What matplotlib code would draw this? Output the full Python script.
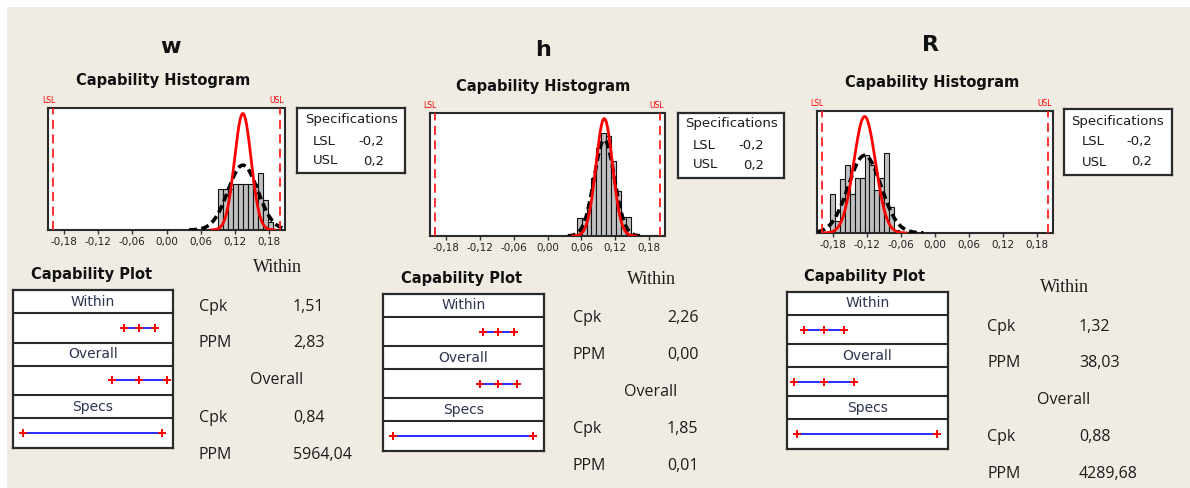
import numpy as np
import matplotlib
matplotlib.use("Agg")
import matplotlib.pyplot as plt
import matplotlib.transforms as mtransforms
from matplotlib.patches import Rectangle

# ---- data ----
names = ["w", "h", "R"]
lsl, usl = -0.2, 0.2
means = [0.134, 0.1005, -0.124]
cpk_within = [1.51, 2.26, 1.32]
ppm_within = [2.83, 0.00, 38.03]
cpk_overall = [0.84, 1.85, 0.88]
ppm_overall = [5964.04, 0.01, 4289.68]

# histogram bars (density), first bin edge and bin width
bin_start = [0.0905, 0.0516, -0.1853]
bin_width = [0.0087, 0.00874, 0.00873]
w_heights = [9.6, 9.6, 9.6, 10.8, 10.8, 10.8, 10.8, 10.8, 13.3, 7.0, 1.9]
h_heights = [4.2, 4.2, 7.4, 13.4, 20.4, 23.8, 23.1, 17.4, 10.4, 4.4, 4.4]
r_heights = [7.0, 2.1, 9.6, 12.1, 7.0, 9.8, 9.8, 13.9, 12.1, 7.7, 9.8, 14.3, 4.6, 0.5]
heights = [w_heights, h_heights, r_heights]

tick_values = [-0.18, -0.12, -0.06, 0.00, 0.06, 0.12, 0.18]

# ---- layout in pixels ----
W, H = 1190, 488
BG = "#F0ECE3"
layout = [
    dict(title=(170, 47), htitle=(163, 80), hist=(48, 108, 285, 230),
         spec=(297, 108, 405, 173), spec_y=(120, 142, 161), spec_lx=313, spec_rx=384,
         ctitle=(92, 274), cap=(13, 290, 173, 448),
         tc=277, tl=199, tv=293, ty=(268, 307, 343, 380, 418, 455)),
    dict(title=(543, 50), htitle=(543, 86), hist=(430, 113, 665, 236),
         spec=(678, 113, 784, 178), spec_y=(123, 145, 165), spec_lx=693, spec_rx=764,
         ctitle=(462, 278), cap=(383, 294, 544, 451),
         tc=651, tl=573, tv=667, ty=(280, 318, 355, 392, 429, 466)),
    dict(title=(930, 45), htitle=(932, 82), hist=(817, 111, 1053, 233),
         spec=(1064, 109, 1172, 175), spec_y=(122, 142, 162), spec_lx=1082, spec_rx=1152,
         ctitle=(865, 276), cap=(787, 292, 948, 449),
         tc=1064, tl=987, tv=1079, ty=(288, 327, 363, 400, 437, 474)),
]


def fx(x):
    return x / W


def fy(y):
    return 1 - y / H


def px_axes(x0, y0, x1, y1):
    return fig.add_axes([x0 / W, 1 - y1 / H, (x1 - x0) / W, (y1 - y0) / H])


def fmt(v):
    return f"{v:.2f}".replace(".", ",")


def pdf(x, m, s):
    return np.exp(-0.5 * ((x - m) / s) ** 2) / (s * np.sqrt(2 * np.pi))


def frame(ax, lw=1.5, color="#2a2a2a"):
    ax.set_xticks([])
    ax.set_yticks([])
    for sp in ax.spines.values():
        sp.set_linewidth(lw)
        sp.set_color(color)


fig = plt.figure(figsize=(W / 100, H / 100), dpi=100, facecolor="white")
fig.add_artist(Rectangle((7 / W, 0), 1 - 7 / W, 1 - 7 / H, transform=fig.transFigure,
                         facecolor=BG, edgecolor="none", zorder=-10))

sans = "DejaVu Sans"
txt = "#1c1c1c"

for i, name in enumerate(names):
    lay = layout[i]
    m = means[i]
    dist = min(usl - m, m - lsl)
    sw = dist / (3 * cpk_within[i])
    so = dist / (3 * cpk_overall[i])

    fig.text(fx(lay["title"][0]), fy(lay["title"][1]), name, family=sans, weight="bold",
             size=16, ha="center", va="center", color="#111")
    fig.text(fx(lay["htitle"][0]), fy(lay["htitle"][1]), "Capability Histogram", family=sans,
             weight="bold", size=10.5, ha="center", va="center", color="#111")

    # histogram
    ax = px_axes(*lay["hist"])
    ax.set_facecolor("white")
    hts = heights[i]
    edges = bin_start[i] + bin_width[i] * np.arange(len(hts))
    ax.bar(edges, hts, width=bin_width[i], align="edge", color="#C0C0C0",
           edgecolor="#111", linewidth=0.8, zorder=2)
    xo = np.linspace(max(m - 3.6 * so, -0.207), min(m + 3.6 * so, 0.207), 300)
    ax.plot(xo, pdf(xo, m, so), color="black", lw=2.6, ls=(0, (2.2, 1.2)), zorder=3)
    xw = np.linspace(m - 3.8 * sw, m + 3.8 * sw, 300)
    ax.plot(xw, pdf(xw, m, sw), color="#FF0000", lw=2, zorder=4)
    trans = mtransforms.blended_transform_factory(ax.transData, ax.transAxes)
    for v, lab in ((lsl, "LSL"), (usl, "USL")):
        ax.axvline(v, color="#FF2020", lw=1.3, ls=(0, (5, 3)), zorder=5)
        ax.annotate(lab, xy=(v, 1), xycoords=trans, xytext=(-3, 5.5),
                    textcoords="offset points", ha="center", va="center",
                    fontsize=5.5, color="#FF0000", annotation_clip=False)
    ax.set_xlim(-0.208, 0.208)
    ax.set_ylim(0, pdf(m, m, sw) / 0.955)
    frame(ax)
    ax.set_xticks(tick_values)
    ax.set_xticklabels([fmt(t) for t in tick_values], fontsize=7.5, color="#222")
    ax.tick_params(axis="x", direction="out", length=3, width=1, pad=2, color="#333")

    # specifications box
    sx = px_axes(*lay["spec"])
    sx.set_facecolor("white")
    frame(sx, lw=1.6)
    x0, y0, x1, y1 = lay["spec"]
    fig.text(fx((x0 + x1) / 2), fy(lay["spec_y"][0]), "Specifications", family=sans,
             size=9.5, ha="center", va="center", color=txt)
    for lab, val, yy in (("LSL", lsl, lay["spec_y"][1]), ("USL", usl, lay["spec_y"][2])):
        fig.text(fx(lay["spec_lx"]), fy(yy), lab, family=sans, size=9.5,
                 ha="left", va="center", color=txt)
        fig.text(fx(lay["spec_rx"]), fy(yy), f"{val:.1f}".replace(".", ","), family=sans,
                 size=9.5, ha="right", va="center", color=txt)

    # capability plot
    fig.text(fx(lay["ctitle"][0]), fy(lay["ctitle"][1]), "Capability Plot", family=sans,
             weight="bold", size=10.5, ha="center", va="center", color="#111")
    cx = px_axes(*lay["cap"])
    cx.set_facecolor("white")
    frame(cx, lw=1.6)
    cx.set_xlim(-0.23, 0.231)
    bounds = [0, 23, 52.5, 75.5, 105, 128, 158]
    cx.set_ylim(bounds[-1], 0)
    for b in bounds[1:-1]:
        cx.axhline(b, color="#2a2a2a", lw=1.5)
    rows = [(m - 3 * sw, m, m + 3 * sw), (m - 3 * so, m, m + 3 * so), (lsl, usl)]
    for k, (hdr, xs) in enumerate(zip(["Within", "Overall", "Specs"], rows)):
        yh = (bounds[2 * k] + bounds[2 * k + 1]) / 2
        yr = (bounds[2 * k + 1] + bounds[2 * k + 2]) / 2
        cx.text(0.0, yh, hdr, family=sans, size=10, ha="center", va="center",
                color="#2c3550")
        cx.plot(xs, [yr] * len(xs), color="#2b2bff", lw=1.4, zorder=3)
        cx.plot(xs, [yr] * len(xs), ls="none", marker="+", ms=6, mew=1.4,
                mec="#FF0000", zorder=4)

    # statistics text
    ty = lay["ty"]
    fig.text(fx(lay["tc"]), fy(ty[0]), "Within", family="Liberation Serif", size=13,
             ha="center", va="center", color=txt)
    fig.text(fx(lay["tc"]), fy(ty[3]), "Overall", family="Open Sans", size=11.5,
             ha="center", va="center", color=txt)
    for lab, val, yy in (("Cpk", cpk_within[i], ty[1]), ("PPM", ppm_within[i], ty[2]),
                         ("Cpk", cpk_overall[i], ty[4]), ("PPM", ppm_overall[i], ty[5])):
        fig.text(fx(lay["tl"]), fy(yy), lab, family="Open Sans", size=11.5,
                 ha="left", va="center", color=txt)
        fig.text(fx(lay["tv"]), fy(yy), fmt(val), family="Open Sans", size=11.5,
                 ha="left", va="center", color=txt)

fig.savefig("out.png", dpi=100, facecolor=fig.get_facecolor())
